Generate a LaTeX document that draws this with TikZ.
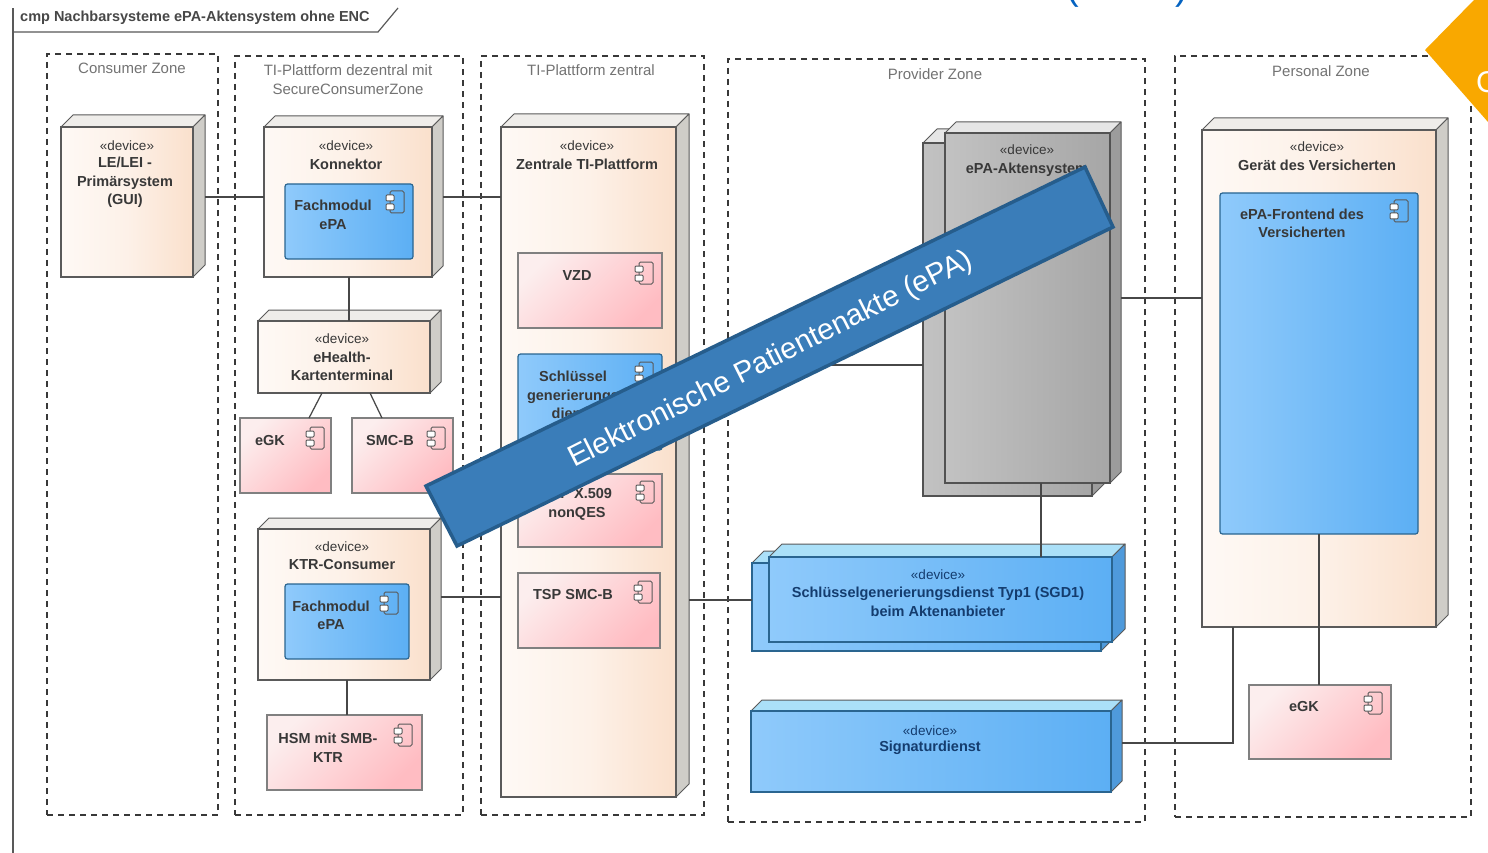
\documentclass[tikz,border=0pt]{standalone}
\usepackage{fontspec}
\setmainfont{Liberation Sans}
\usetikzlibrary{fit,calc}
\definecolor{edge}{HTML}{5A5A5A}
\definecolor{ink}{HTML}{383838}
\definecolor{blueink}{HTML}{143C6E}
\definecolor{blueedge}{HTML}{2A6590}
\definecolor{bandfill}{HTML}{3A7DB9}
\definecolor{bandedge}{HTML}{265D8C}
\definecolor{orangeflag}{HTML}{F9A800}
\definecolor{titleblue}{HTML}{0563C1}
\definecolor{orangeL}{HTML}{FEF9F5}
\definecolor{orangeM}{HTML}{FDF1E8}
\definecolor{orangeR}{HTML}{FAE0CC}
\definecolor{greyL}{HTML}{C2C2C2}
\definecolor{greyR}{HTML}{A6A6A6}
\definecolor{greyTop}{HTML}{E6E6E6}
\definecolor{greySide}{HTML}{9C9C9C}
\definecolor{blueL}{HTML}{8FCAFB}
\definecolor{blueR}{HTML}{5CAFF4}
\definecolor{blueTop}{HTML}{ABE0F8}
\definecolor{blueSide}{HTML}{4F9ADB}
\definecolor{pinkTL}{HTML}{FCEEEE}
\definecolor{pinkBR}{HTML}{FFBCC2}
\definecolor{faceTop}{HTML}{EFEDEA}
\definecolor{faceSide}{HTML}{CFCDC8}
\tikzset{
  zonebox/.style={draw=black!78,line width=1.25pt,dash pattern=on 6pt off 5pt,fill=white},
  zonetitle/.style={font=\fontsize{15}{18.5}\selectfont,text=black!55,align=center,anchor=center,inner sep=0pt},
  lbl/.style={font=\fontsize{14.5}{18.5}\selectfont\bfseries,text=ink,align=center,anchor=center,inner sep=0pt},
  bluelbl/.style={lbl,text=blueink},
  stereo/.style={font=\fontsize{13.5}{14}\selectfont,text=ink,anchor=center,inner sep=0pt},
  bluestereo/.style={stereo,text=blueink},
  framebox/.style={inner sep=0pt,outer sep=0pt},
  devorange/.style={framebox,draw=edge,line width=1.2pt,top color=orangeL,bottom color=orangeR,middle color=orangeM,shading angle=90},
  devgrey/.style={framebox,draw=black!68,line width=1.2pt,top color=greyL,bottom color=greyR,shading angle=90},
  devblue/.style={framebox,draw=blueedge,line width=1.3pt,top color=blueL,bottom color=blueR,shading angle=90},
  compblue/.style={framebox,draw=blueedge,line width=1.2pt,rounded corners=2.5pt,top color=blueL,bottom color=blueR,shading angle=90},
  comppink/.style={framebox,draw=black!50,line width=1.2pt,top color=pinkTL,bottom color=pinkBR,shading angle=45},
  wire/.style={draw=black!72,line width=1.25pt},
}
% name, x1, y1, x2, y2, depth, front style, top colour, side colour
\newcommand\devbox[9]{%
  \fill[#8,draw=edge,line width=1pt,line join=round] (#2,#3) -- ++(#6,-#6) -- ($(#4,#3)+(#6,-#6)$) -- (#4,#3) -- cycle;
  \fill[#9,draw=edge,line width=1pt,line join=round] (#4,#3) -- ++(#6,-#6) -- ($(#4,#5)+(#6,-#6)$) -- (#4,#5) -- cycle;
  \node[#7,fit={(#2,#3)(#4,#5)}] (#1) {};
  \coordinate (#1-side) at ($(#4,#3)+(#6,0)$);
}
% name, x1, y1, x2, y2, style
\newcommand\compbox[6]{\node[#6,fit={(#2,#3)(#4,#5)}] (#1) {};}
% x, y of the component icon centre
\newcommand\compicon[2]{%
  \begin{scope}[shift={(#1,#2)}]
    \draw[black!65,line width=1pt,rounded corners=1.5pt] (-6,-11) rectangle (8,11);
    \draw[black!65,line width=1pt,fill=white,rounded corners=1pt] (-10,-7) rectangle (-2,-1);
    \draw[black!65,line width=1pt,fill=white,rounded corners=1pt] (-10,2) rectangle (-2,8);
  \end{scope}}
\begin{document}
\begin{tikzpicture}[x=1pt,y=-1pt]
\useasboundingbox (0,0) rectangle (1488,853);
\fill[white] (0,0) rectangle (1488,853);

% partly cut-off slide title brackets
\begin{scope}
  \clip (1000,0) rectangle (1250,10);
  \node[font=\fontsize{38}{38}\selectfont,text=titleblue,inner sep=0pt] (openparen) at (1073,-10) {(};
  \node[font=\fontsize{38}{38}\selectfont,text=titleblue,inner sep=0pt] (closeparen) at (1182,-10) {)};
\end{scope}

% diagram frame
\draw[black!65,line width=1.2pt] (13,853) -- (13,8);
\draw[black!65,line width=1.2pt] (13,32) -- (378,32) -- (398,8);
\node[font=\fontsize{14.5}{16}\selectfont\bfseries,text=black!72,anchor=west,inner sep=0pt] (frametitle) at (20,18) {cmp Nachbarsysteme ePA-Aktensystem ohne ENC};

% zones
\node[zonebox,framebox,fit={(47,54)(218,815)}] (zconsumer) {};
\node[zonebox,framebox,fit={(235,56)(463,815)}] (zdezentral) {};
\node[zonebox,framebox,fit={(481,56)(704,815)}] (zzentral) {};
\node[zonebox,framebox,fit={(728,59)(1145,822)}] (zprovider) {};
\node[zonebox,framebox,fit={(1175,56)(1471,817)}] (zpersonal) {};
\node[zonetitle] (tconsumer) at (132,68) {Consumer Zone};
\node[zonetitle] (tdezentral) at (348,79.5) {TI-Plattform dezentral mit\\SecureConsumerZone};
\node[zonetitle] (tzentral) at (591,70) {TI-Plattform zentral};
\node[zonetitle] (tprovider) at (935,74) {Provider Zone};
\node[zonetitle] (tpersonal) at (1321,71) {Personal Zone};

% device nodes
\devbox{lei}{61}{127}{193}{277}{12}{devorange}{faceTop}{faceSide}
\devbox{kon}{264}{127}{432}{277}{11}{devorange}{faceTop}{faceSide}
\devbox{term}{258}{321}{430}{393}{11}{devorange}{faceTop}{faceSide}
\devbox{ktr}{258}{529}{430}{680}{11}{devorange}{faceTop}{faceSide}
\devbox{zent}{501}{127}{676}{797}{13}{devorange}{faceTop}{faceSide}
\devbox{epab}{923}{143}{1092}{496}{14}{devgrey}{greyTop}{greySide}
\devbox{epa}{945}{133}{1110}{483}{11}{devgrey}{greyTop}{greySide}
\devbox{sgdb}{752}{563}{1101}{651}{12}{devblue}{blueTop}{blueSide}
\devbox{sgd}{769}{557}{1112}{642}{13}{devblue}{blueTop}{blueSide}
\devbox{sig}{751}{711}{1111}{792}{11}{devblue}{blueTop}{blueSide}
\devbox{ger}{1202}{130}{1436}{627}{12}{devorange}{faceTop}{faceSide}

% component boxes
\compbox{fm1}{285}{184}{413}{259}{compblue}
\compbox{fm2}{285}{584}{409}{659}{compblue}
\compbox{egk1}{240}{418}{331}{493}{comppink}
\compbox{smcb}{352}{418}{453}{493}{comppink}
\compbox{hsm}{267}{715}{422}{790}{comppink}
\compbox{vzd}{518}{253}{662}{328}{comppink}
\compbox{skg}{518}{354}{662}{450}{compblue}
\compbox{tspx}{518}{474}{662}{547}{comppink}
\compbox{tspb}{518}{573}{660}{648}{comppink}
\compbox{front}{1220}{193}{1418}{534}{compblue}
\compbox{egk2}{1249}{685}{1391}{759}{comppink}

\compicon{396}{202}
\compicon{390}{603}
\compicon{316}{438}
\compicon{437}{438}
\compicon{404}{735}
\compicon{645}{273}
\compicon{645}{373}
\compicon{646}{492}
\compicon{644}{592}
\compicon{1400}{211}
\compicon{1374}{703}

% labels
\node[stereo] (s1) at (127,146) {«device»};
\node[lbl] (l1) at (125,182.5) {LE/LEI -\\Primärsystem\\(GUI)};
\node[stereo] (s2) at (346,146) {«device»};
\node[lbl] (l2) at (346,164) {Konnektor};
\node[lbl] (l3) at (333,215) {Fachmodul\\ePA};
\node[stereo] (s4) at (342,339) {«device»};
\node[lbl] (l4) at (342,366.5) {eHealth-\\Kartenterminal};
\node[lbl] (l5) at (270,441) {eGK};
\node[lbl] (l6) at (390,441) {SMC-B};
\node[stereo] (s7) at (342,547) {«device»};
\node[lbl] (l7) at (342,565) {KTR-Consumer};
\node[lbl] (l8) at (331,615.5) {Fachmodul\\ePA};
\node[lbl] (l9) at (328,747.5) {HSM mit SMB-\\KTR};
\node[stereo] (s10) at (587,146) {«device»};
\node[lbl] (l10) at (587,164) {Zentrale TI-Plattform};
\node[lbl] (l11) at (577,276) {VZD};
\node[lbl] (l12) at (573,395) {Schlüssel\\generierungs\\dienst};
\node[lbl] (l13) at (577,504.5) {TSP X.509\\nonQES};
\node[lbl] (l14) at (573,595) {TSP SMC-B};
\node[stereo] (s15) at (1027,150) {«device»};
\node[lbl] (l15) at (1027,170) {ePA-Aktensystem};
\node[bluestereo] (s16) at (938,575) {«device»};
\node[bluelbl] (l16) at (938,602) {Schlüsselgenerierungsdienst Typ1 (SGD1)\\beim Aktenanbieter};
\node[bluestereo] (s17) at (930,731) {«device»};
\node[bluelbl] (l17) at (930,748) {Signaturdienst};
\node[stereo] (s18) at (1317,147) {«device»};
\node[lbl] (l18) at (1317,165) {Gerät des Versicherten};
\node[lbl] (l19) at (1302,223.5) {ePA-Frontend des\\Versicherten};
\node[lbl] (l20) at (1304,707) {eGK};

% connectors
\draw[wire] (lei-side |- 0,197) -- (kon.west |- 0,197);
\draw[wire] (kon-side |- 0,197) -- (zent.west |- 0,197);
\draw[wire] (349,0 |- kon.south) -- (349,0 |- term.north);
\draw[wire] (322,0 |- term.south) -- (309,0 |- egk1.north);
\draw[wire] (370,0 |- term.south) -- (382,0 |- smcb.north);
\draw[wire] (ktr-side |- 0,597) -- (zent.west |- 0,597);
\draw[wire] (347,0 |- ktr.south) -- (347,0 |- hsm.north);
\draw[wire] (zent-side |- 0,600) -- (sgdb.west |- 0,600);
\draw[wire] (zent-side |- 0,365) -- (epab.west |- 0,365);
\draw[wire] (1041,0 |- epa.south) -- (1041,0 |- sgd.north);
\draw[wire] (epa-side |- 0,298) -- (ger.west |- 0,298);
\draw[wire] (sig-side |- 0,743) -- (1233,743) -- (1233,0 |- ger.south);
\draw[wire] (1319,0 |- front.south) -- (1319,0 |- egk2.north);

% banner
\draw[bandedge,fill=bandfill,line width=3.5pt,line join=miter] (426,486) -- (1085,167) -- (1113,227) -- (457,546) -- cycle;
\node[font=\fontsize{29.6}{30}\selectfont,text=white,rotate=26.8,inner sep=0pt] (bandtext) at (771,360) {Elektronische Patientenakte (ePA)};

% orange corner flag
\fill[orangeflag] (1474,0) -- (1425,50) -- (1488,122) -- (1488,0) -- cycle;
\begin{scope}
  \clip (1474,0) -- (1425,50) -- (1488,122) -- (1488,0) -- cycle;
  \node[font=\fontsize{30}{30}\selectfont,text=white,anchor=west,inner sep=0pt] (flagtext) at (1476,82) {C};
\end{scope}
\end{tikzpicture}
\end{document}
